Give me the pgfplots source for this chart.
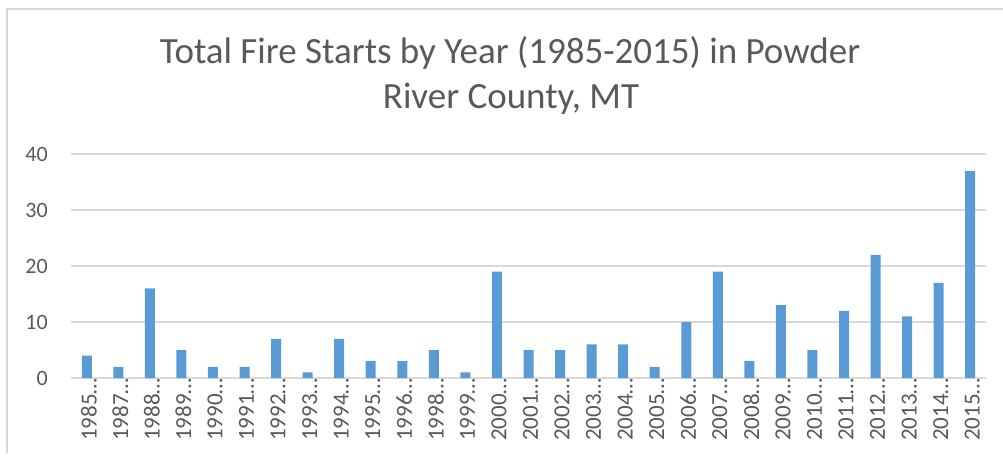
\documentclass[border=0pt]{standalone}
\usepackage{pgfplots}
\pgfplotsset{compat=1.18}
\usepackage{fontspec}
\setmainfont{Carlito}
\definecolor{barblue}{HTML}{5B9BD5}
\definecolor{txt}{HTML}{595959}
\definecolor{gridc}{HTML}{D9D9D9}
\begin{document}
\begin{tikzpicture}[x=1pt,y=1pt]
\useasboundingbox (0,0) rectangle (1003,-455);
\draw[gridc, line width=1.3pt] (7,-453) -- (7,-9) -- (1003,-9);
\node[txt, font=\fontsize{37}{44}\selectfont, anchor=base, inner sep=0pt] at (510,-63) {Total Fire Starts by Year (1985-2015) in Powder};
\node[txt, font=\fontsize{37}{44}\selectfont, anchor=base, inner sep=0pt] at (511,-108) {River County, MT};
\begin{axis}[
  at={(71pt,-378pt)}, anchor=south west,
  scale only axis, width=915pt, height=224pt,
  xmin=-0.5, xmax=28.5, ymin=0, ymax=40,
  ytick={0,10,20,30,40},
  xtick={0,...,28},
  xticklabels={1985…,1987…,1988…,1989…,1990…,1991…,1992…,1993…,1994…,1995…,1996…,1998…,1999…,2000…,2001…,2002…,2003…,2004…,2005…,2006…,2007…,2008…,2009…,2010…,2011…,2012…,2013…,2014…,2015…},
  axis line style={draw=none},
  major tick length=0pt,
  ymajorgrids, grid style={gridc, line width=1.3pt},
  yticklabel style={txt, font=\fontsize{22}{22}\selectfont, inner sep=0pt, anchor=east, xshift=-23pt},
  xticklabel style={txt, font=\fontsize{23}{23}\selectfont, rotate=90, anchor=east, inner sep=0pt, yshift=-2pt},
  /pgf/number format/assume math mode=true,
  ybar, bar width=10pt,
]
\addplot[fill=barblue, draw=none] coordinates {
(0,4) (1,2) (2,16) (3,5) (4,2) (5,2) (6,7) (7,1) (8,7) (9,3) (10,3) (11,5) (12,1) (13,19) (14,5) (15,5) (16,6) (17,6) (18,2) (19,10) (20,19) (21,3) (22,13) (23,5) (24,12) (25,22) (26,11) (27,17) (28,37)
};
\end{axis}
\end{tikzpicture}
\end{document}
